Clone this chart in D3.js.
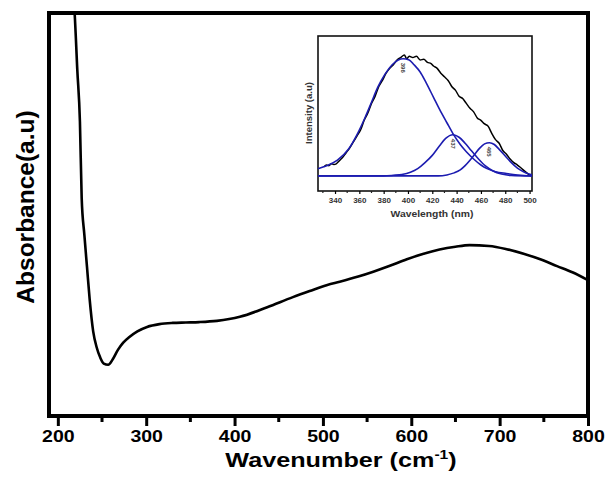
<!DOCTYPE html>
<html>
<head>
<meta charset="utf-8">
<script src="https://cdn.jsdelivr.net/npm/d3@7"></script>
<style>
  body { margin: 0; background: #fff; }
  text { font-family: "Liberation Sans", Arial, sans-serif; font-weight: bold; }
</style>
</head>
<body>
<svg id="graphic"></svg>
<script>
// main spectrum: wavenumber (cm-1) and absorbance (a.u.)
var wavenumber = [217, 219, 222, 225, 227, 230, 233, 236, 240, 244, 248, 252, 257, 262, 268, 274, 281, 290, 301, 315,
  330, 345, 360, 380, 406, 437, 466, 485, 505, 519, 540, 557, 575, 595, 613, 632, 650, 666, 688, 708,
  728, 746, 765, 783, 800];
var absorbance = [1.06, 1.0, 0.86, 0.73, 0.54, 0.45, 0.37, 0.29, 0.21, 0.17, 0.145, 0.13, 0.127, 0.14, 0.164, 0.182, 0.196, 0.21, 0.221, 0.228,
  0.231, 0.232, 0.233, 0.236, 0.246, 0.270, 0.295, 0.310, 0.325, 0.333, 0.346, 0.358, 0.372, 0.389, 0.402, 0.413,
  0.420, 0.424, 0.422, 0.414, 0.402, 0.389, 0.372, 0.356, 0.337];
var xTicks = [200, 300, 400, 500, 600, 700, 800];

// inset: PL spectrum and fitted peaks
var wavelength = [331, 333, 335, 337, 339, 341, 343, 346, 349, 352, 355, 358, 361, 364, 367, 370, 373, 376, 379, 382,
  385, 388, 391, 394, 397, 399, 401, 404, 407, 410, 413, 416, 419, 421, 424, 427, 430, 433, 436, 439,
  442, 445, 448, 451, 454, 457, 460, 463, 466, 469, 472, 475, 478, 481, 484, 487, 490, 493, 496, 499, 501];
var intensity = [0.075, 0.09, 0.085, 0.1, 0.095, 0.1, 0.12, 0.15, 0.19, 0.23, 0.28, 0.33, 0.38, 0.46, 0.52, 0.6, 0.66, 0.74, 0.79, 0.85,
  0.89, 0.92, 0.96, 0.98, 1.0, 0.97, 0.99, 0.98, 0.99, 0.96, 0.965, 0.94, 0.93, 0.91, 0.89, 0.85, 0.82, 0.79, 0.74, 0.71,
  0.66, 0.64, 0.6, 0.56, 0.53, 0.48, 0.46, 0.43, 0.41, 0.35, 0.3, 0.27, 0.21, 0.18, 0.14, 0.11, 0.09, 0.065, 0.04, 0.015, 0.0];
var fit1Wl = [326, 332, 342, 351, 358, 365, 370, 375, 381, 387, 392, 396, 401, 405, 410, 415, 421, 426, 432, 437, 443, 448, 454, 460, 465, 472, 481, 490, 502];
var fit1 = [0.06, 0.08, 0.13, 0.22, 0.34, 0.49, 0.61, 0.73, 0.84, 0.92, 0.96, 0.97, 0.96, 0.92, 0.86, 0.77, 0.65, 0.55, 0.44, 0.35, 0.26, 0.2, 0.14, 0.09, 0.06, 0.035, 0.02, 0.008, 0.0];
var fit2Wl = [326, 380, 388, 395, 402, 408, 414, 420, 426, 431, 437, 442, 447, 452, 458, 464, 470, 477, 485, 502];
var fit2 = [0, 0, 0.005, 0.012, 0.03, 0.06, 0.11, 0.17, 0.25, 0.31, 0.34, 0.32, 0.27, 0.21, 0.14, 0.08, 0.04, 0.015, 0.004, 0];
var fit3Wl = [326, 425, 432, 438, 443, 447, 451, 455, 459, 463, 467, 471, 475, 480, 485, 490, 495, 499, 502];
var fit3 = [0, 0, 0.008, 0.025, 0.05, 0.085, 0.13, 0.18, 0.23, 0.265, 0.275, 0.26, 0.22, 0.165, 0.11, 0.065, 0.035, 0.018, 0.01];
var peakLabels = ["396", "437", "465"];
var peakPos = [396, 437, 467];
var peakTop = [0.97, 0.34, 0.275];
var insetTicks = [340, 360, 380, 400, 420, 440, 460, 480, 500];

var svgWidth = 606, svgHeight = 478;
var svg = d3.select("#graphic").attr("width", svgWidth).attr("height", svgHeight);

var pLeft = 49, pRight = 588, pTop = 13, pBottom = 416;
var x = d3.scaleLinear().domain([190, 800]).range([pLeft, pRight]);
var y = d3.scaleLinear().domain([0, 1]).range([pBottom, pTop]);

svg.append("clipPath").attr("id", "clip")
  .append("rect").attr("x", pLeft).attr("y", pTop).attr("width", pRight - pLeft).attr("height", pBottom - pTop);

var line = d3.line()
  .x(function(d, i) { return x(wavenumber[i]); })
  .y(function(d) { return y(d); })
  .curve(d3.curveMonotoneX);

svg.append("path")
  .attr("clip-path", "url(#clip)")
  .attr("d", line(absorbance))
  .attr("fill", "none")
  .attr("stroke", "#000")
  .attr("stroke-width", 2.6);

// x axis with minor ticks
var minor = d3.range(250, 800, 100);
svg.append("g").selectAll("line").data(minor).enter().append("line")
  .attr("x1", function(d) { return x(d); }).attr("x2", function(d) { return x(d); })
  .attr("y1", pBottom).attr("y2", pBottom + 6)
  .attr("stroke", "#000").attr("stroke-width", 3);

var xAxis = svg.append("g")
  .attr("transform", "translate(0," + pBottom + ")")
  .call(d3.axisBottom(x).tickValues(xTicks).tickSize(10).tickPadding(5).tickFormat(d3.format("d")));
xAxis.select(".domain").remove();
xAxis.selectAll(".tick line").attr("stroke-width", 3);
xAxis.selectAll(".tick text").attr("font-size", 16).attr("fill", "#000")
  .attr("transform", "scale(1.22,1)")
  .style("font-family", "Liberation Sans, Arial, sans-serif").style("font-weight", "bold");

svg.append("rect")
  .attr("x", pLeft).attr("y", pTop).attr("width", pRight - pLeft).attr("height", pBottom - pTop)
  .attr("fill", "none").attr("stroke", "#000").attr("stroke-width", 4);

var xt = svg.append("text").attr("transform", "translate(341,467) scale(1.2,1)")
  .attr("text-anchor", "middle").attr("font-size", 21);
xt.append("tspan").text("Wavenumber (cm");
xt.append("tspan").attr("dy", -8).attr("font-size", 13).text("-1");
xt.append("tspan").attr("dy", 8).text(")");

svg.append("text")
  .attr("transform", "translate(34,207) rotate(-90)")
  .attr("text-anchor", "middle").attr("font-size", 24.5)
  .text("Absorbance(a.u)");

// inset
var iL = 318, iR = 532, iT = 36, iB = 191;
var ix = d3.scaleLinear().domain([326, 502]).range([iL, iR]);
var iy = d3.scaleLinear().domain([-0.125, 1.158]).range([iB, iT]);

var inset = svg.append("g");
inset.append("rect").attr("x", iL).attr("y", iT).attr("width", iR - iL).attr("height", iB - iT)
  .attr("fill", "#fff").attr("stroke", "#111").attr("stroke-width", 1.6);

function curve(xs) {
  return d3.line()
    .x(function(d, i) { return ix(xs[i]); })
    .y(function(d) { return iy(d); })
    .curve(d3.curveMonotoneX);
}

inset.append("path").attr("d", curve(wavelength)(intensity))
  .attr("fill", "none").attr("stroke", "#000").attr("stroke-width", 1.5);

[[fit1Wl, fit1], [fit2Wl, fit2], [fit3Wl, fit3]].forEach(function(f) {
  inset.append("path").attr("d", curve(f[0])(f[1]))
    .attr("fill", "none").attr("stroke", "#1c1cb0").attr("stroke-width", 1.6);
});

inset.selectAll(".pk").data(peakLabels).enter().append("text")
  .attr("transform", function(d, i) {
    return "translate(" + (ix(peakPos[i]) - 2) + "," + (iy(peakTop[i]) + 4) + ") rotate(90)";
  })
  .attr("font-size", 6).attr("fill", "#444").text(function(d) { return d; });

var iMinor = d3.range(330, 500, 20);
inset.append("g").selectAll("line").data(iMinor).enter().append("line")
  .attr("x1", function(d) { return ix(d); }).attr("x2", function(d) { return ix(d); })
  .attr("y1", iB).attr("y2", iB + 2).attr("stroke", "#222").attr("stroke-width", 1.2);

var ixAxis = inset.append("g")
  .attr("transform", "translate(0," + iB + ")")
  .call(d3.axisBottom(ix).tickValues(insetTicks).tickSize(3).tickPadding(3).tickFormat(d3.format("d")));
ixAxis.select(".domain").remove();
ixAxis.selectAll(".tick line").attr("stroke-width", 1.2);
ixAxis.selectAll(".tick text").attr("font-size", 8).attr("fill", "#333")
  .style("font-family", "Liberation Sans, Arial, sans-serif").style("font-weight", "bold");

inset.append("text").attr("transform", "translate(432,217) scale(1.15,1)").attr("text-anchor", "middle")
  .attr("font-size", 9).attr("fill", "#333").text("Wavelength (nm)");
inset.append("text").attr("transform", "translate(312,113) rotate(-90)").attr("text-anchor", "middle")
  .attr("font-size", 9.5).attr("fill", "#333").text("Intensity (a.u)");
</script>
</body>
</html>
